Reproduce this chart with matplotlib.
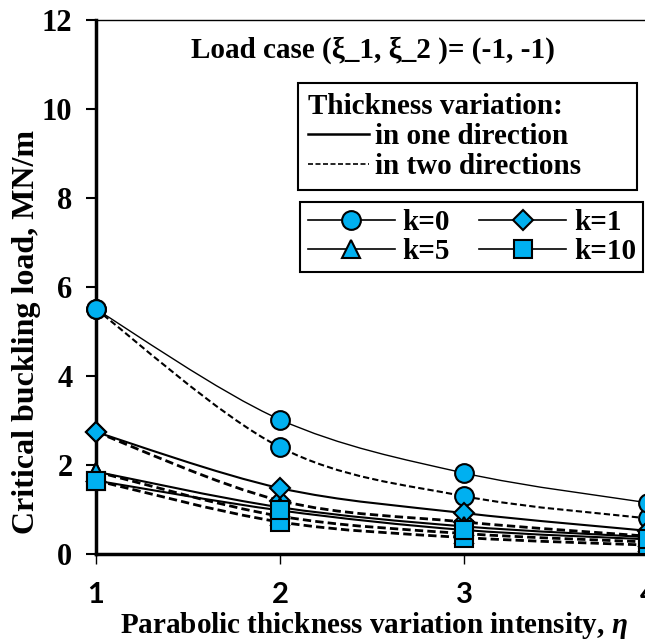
import matplotlib
matplotlib.use("Agg")
import matplotlib.pyplot as plt
from matplotlib.path import Path
from matplotlib.patches import PathPatch
from matplotlib.lines import Line2D

SERIF = "Liberation Serif"
BLUE = "#00B0F0"

eta = [1, 2, 3, 4]
# critical buckling load, MN/m
k0_one = [5.50, 3.02, 1.82, 1.15]
k0_two = [5.50, 2.40, 1.30, 0.80]
k1_one = [2.74, 1.48, 0.92, 0.52]
k1_two = [2.74, 1.20, 0.72, 0.40]
k5_one = [1.85, 1.05, 0.62, 0.38]
k5_two = [1.85, 0.85, 0.46, 0.27]
k10_one = [1.65, 0.98, 0.54, 0.33]
k10_two = [1.65, 0.72, 0.37, 0.20]

series = [
    ("k=0", "o", k0_one, k0_two, 1.0),
    ("k=1", "D", k1_one, k1_two, 1.5),
    ("k=5", "^", k5_one, k5_two, 1.5),
    ("k=10", "s", k10_one, k10_two, 1.5),
]
msizes = {"o": 13.5, "D": 10, "^": 13, "s": 13}


def smooth_path(xs, ys):
    # excel-like smoothed line through the points
    pts = list(zip(xs, ys))
    verts = [pts[0]]
    codes = [Path.MOVETO]
    n = len(pts)
    for i in range(n - 1):
        p0 = pts[i - 1] if i > 0 else pts[i]
        p1 = pts[i]
        p2 = pts[i + 1]
        p3 = pts[i + 2] if i + 2 < n else pts[i + 1]
        c1 = (p1[0] + (p2[0] - p0[0]) / 6, p1[1] + (p2[1] - p0[1]) / 6)
        c2 = (p2[0] - (p3[0] - p1[0]) / 6, p2[1] - (p3[1] - p1[1]) / 6)
        verts += [c1, c2, p2]
        codes += [Path.CURVE4] * 3
    return Path(verts, codes)


plt.rcParams["mathtext.fontset"] = "custom"
plt.rcParams["mathtext.it"] = "Liberation Serif:italic:bold"

fig = plt.figure(figsize=(6.45, 6.41), dpi=100)
ax = fig.add_axes([96 / 645, 87 / 641, 552 / 645, 534 / 641])

for name, m, one, two, lw in series:
    ax.add_patch(PathPatch(smooth_path(eta, one), fill=False, lw=lw, color="black", zorder=2))
    ax.add_patch(PathPatch(smooth_path(eta, two), fill=False, lw=lw + 0.5, color="black",
                           linestyle=(0, (3, 1.5)), zorder=2))
for name, m, one, two, lw in series:
    for ys in (two, one):
        ax.plot(eta, ys, linestyle="none", marker=m, ms=msizes[m], mfc=BLUE,
                mec="black", mew=1.5, clip_on=False, zorder=3)

ax.set_xlim(1, 4)
ax.set_ylim(0, 12)
ax.set_xticks(eta)
ax.set_yticks(range(0, 13, 2))
ax.spines["right"].set_visible(False)
ax.spines["left"].set_linewidth(2.5)
ax.spines["bottom"].set_linewidth(2.5)
ax.spines["top"].set_linewidth(1.0)
ax.tick_params(axis="y", direction="out", length=7, width=1.5, pad=10)
ax.tick_params(axis="x", direction="out", length=7, width=1.0, pad=13)
for t in ax.get_yticklabels():
    t.set_fontfamily(SERIF)
    t.set_fontweight("bold")
    t.set_fontsize(22)
for t in ax.get_xticklabels():
    t.set_fontfamily("Lato")
    t.set_fontweight("bold")
    t.set_fontsize(21)

ax.set_ylabel("Critical buckling load, MN/m", fontfamily=SERIF, fontweight="bold",
              fontsize=23)
ax.yaxis.set_label_coords(-0.1, 0.416)
ax.set_xlabel("Parabolic thickness variation intensity, $\\eta$", fontfamily=SERIF,
              fontweight="bold", fontsize=21)
ax.xaxis.set_label_coords(0.504, -0.104)

ax.text(0.502, 0.944, "Load case (ξ_1, ξ_2 )= (-1, -1)", transform=ax.transAxes,
        ha="center", va="center", fontfamily=SERIF, fontweight="bold", fontsize=21)

h1 = [Line2D([], [], color="black", lw=1.8),
      Line2D([], [], color="black", lw=1.2, linestyle=(0, (3, 1.5)))]
leg1 = ax.legend(h1, ["in one direction", "in two directions"], title="Thickness variation:",
                 loc="upper left", bbox_to_anchor=(0.366, 0.682, 0.614, 0.2), mode="expand",
                 borderaxespad=0, fancybox=False, edgecolor="black", framealpha=1,
                 handlelength=2.1, handletextpad=0.2, labelspacing=0.1, borderpad=0.35,
                 alignment="left",
                 prop={"family": SERIF, "weight": "bold", "size": 21},
                 title_fontproperties={"family": SERIF, "weight": "bold", "size": 21})
leg1.get_frame().set_linewidth(1.5)
ax.add_artist(leg1)

order = [0, 2, 1, 3]
h2 = [Line2D([], [], color="black", lw=1.2, marker=series[i][1], ms=msizes[series[i][1]],
             mfc=BLUE, mec="black", mew=1.5) for i in order]
leg2 = ax.legend(h2, [series[i][0] for i in order], ncol=2, loc="upper left",
                 bbox_to_anchor=(0.370, 0.659), borderaxespad=0, fancybox=False,
                 edgecolor="black", framealpha=1, handlelength=3.0, handletextpad=0.25,
                 columnspacing=1.0, labelspacing=0.05, borderpad=0.25,
                 prop={"family": SERIF, "weight": "bold", "size": 21})
leg2.get_frame().set_linewidth(1.5)

fig.savefig("out.png", dpi=100)
